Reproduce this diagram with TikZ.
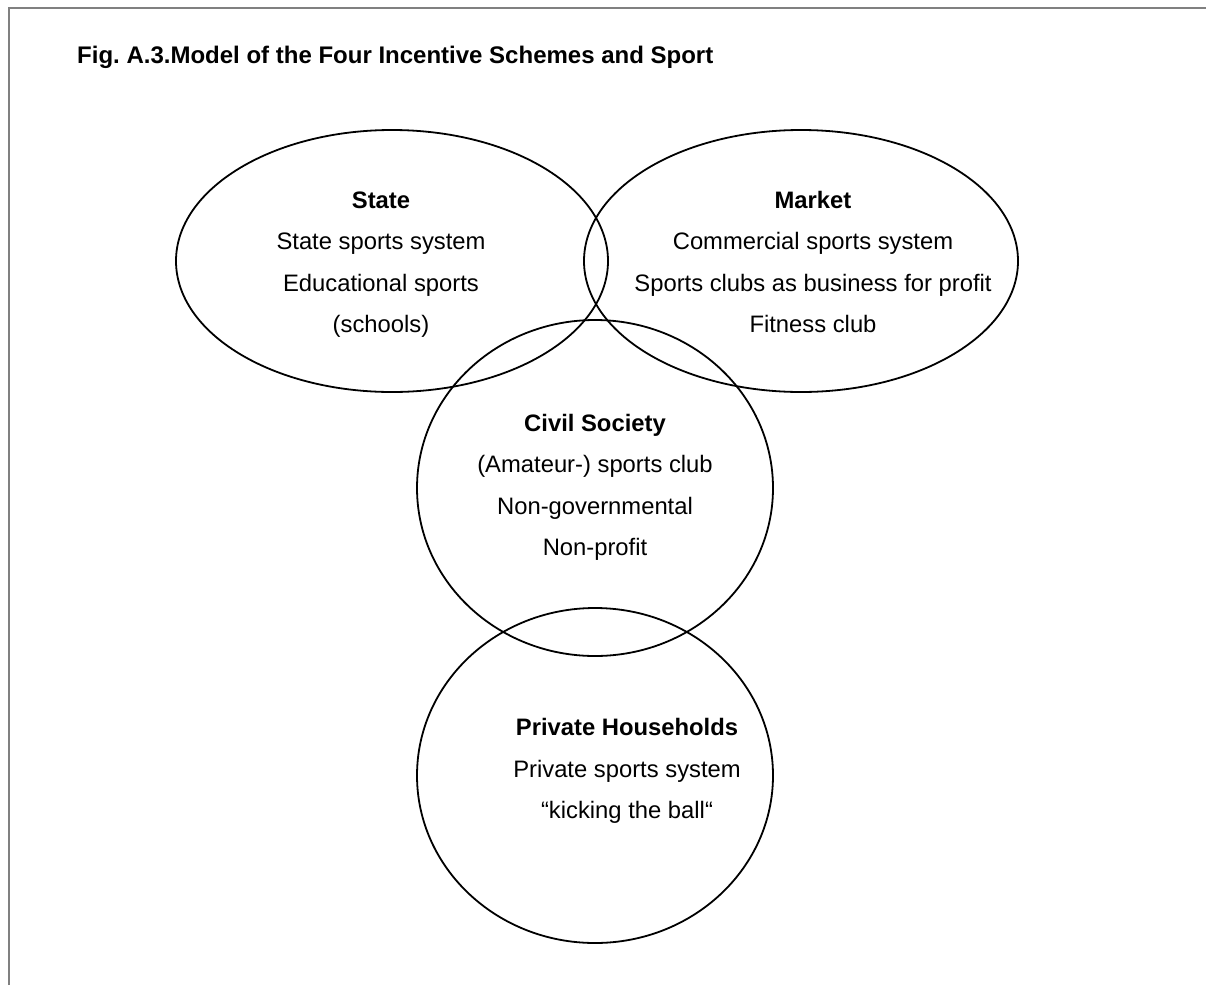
\documentclass[tikz,border=0pt]{standalone}
\usepackage{fontspec}
\setmainfont{Liberation Sans}
\frenchspacing
\begin{document}
\begin{tikzpicture}[x=1pt,y=-1pt,
  ring/.style={draw=black,line width=1.8pt},
  framestyle/.style={draw=black!50,line width=1.8pt},
  lbl/.style={anchor=base,inner sep=0pt,font=\fontsize{23.8}{28}\selectfont},
  hdr/.style={lbl,font=\fontsize{23.8}{28}\selectfont\bfseries},
  ttl/.style={anchor=base west,inner sep=0pt,font=\fontsize{24}{28}\selectfont\bfseries}]
\useasboundingbox (0,0) rectangle (1206,985);
\fill[white] (0,0) rectangle (1206,985);
% page frame (left and top edges)
\draw[framestyle] (9,985) -- (9,8) -- (1206,8);
% title
\node[ttl] (title) at (77,63) {Fig. A.3.Model of the Four Incentive Schemes and Sport};
% the four spheres
\draw[ring] (392,261) ellipse [x radius=216, y radius=131];
\draw[ring] (801,261) ellipse [x radius=217, y radius=131];
\draw[ring] (595,488) ellipse [x radius=178, y radius=168];
\draw[ring] (595,775.5) ellipse [x radius=178, y radius=167.5];
% State
\node[hdr] (stateH) at (381,208) {State};
\node[lbl] (state1) at (381,249.5) {State sports system};
\node[lbl] (state2) at (381,291) {Educational sports};
\node[lbl] (state3) at (381,332.5) {(schools)};
% Market
\node[hdr] (marketH) at (813,208) {Market};
\node[lbl] (market1) at (813,249.5) {Commercial sports system};
\node[lbl] (market2) at (813,291) {Sports clubs as business for profit};
\node[lbl] (market3) at (813,332.5) {Fitness club};
% Civil Society
\node[hdr] (civilH) at (595,431) {Civil Society};
\node[lbl] (civil1) at (595,472.5) {(Amateur-) sports club};
\node[lbl] (civil2) at (595,514) {Non-governmental};
\node[lbl] (civil3) at (595,555.5) {Non-profit};
% Private Households
\node[hdr] (privH) at (627,735) {Private Households};
\node[lbl] (priv1) at (627,777) {Private sports system};
\node[lbl] (priv2) at (627,818) {“kicking the ball“};
\end{tikzpicture}
\end{document}
